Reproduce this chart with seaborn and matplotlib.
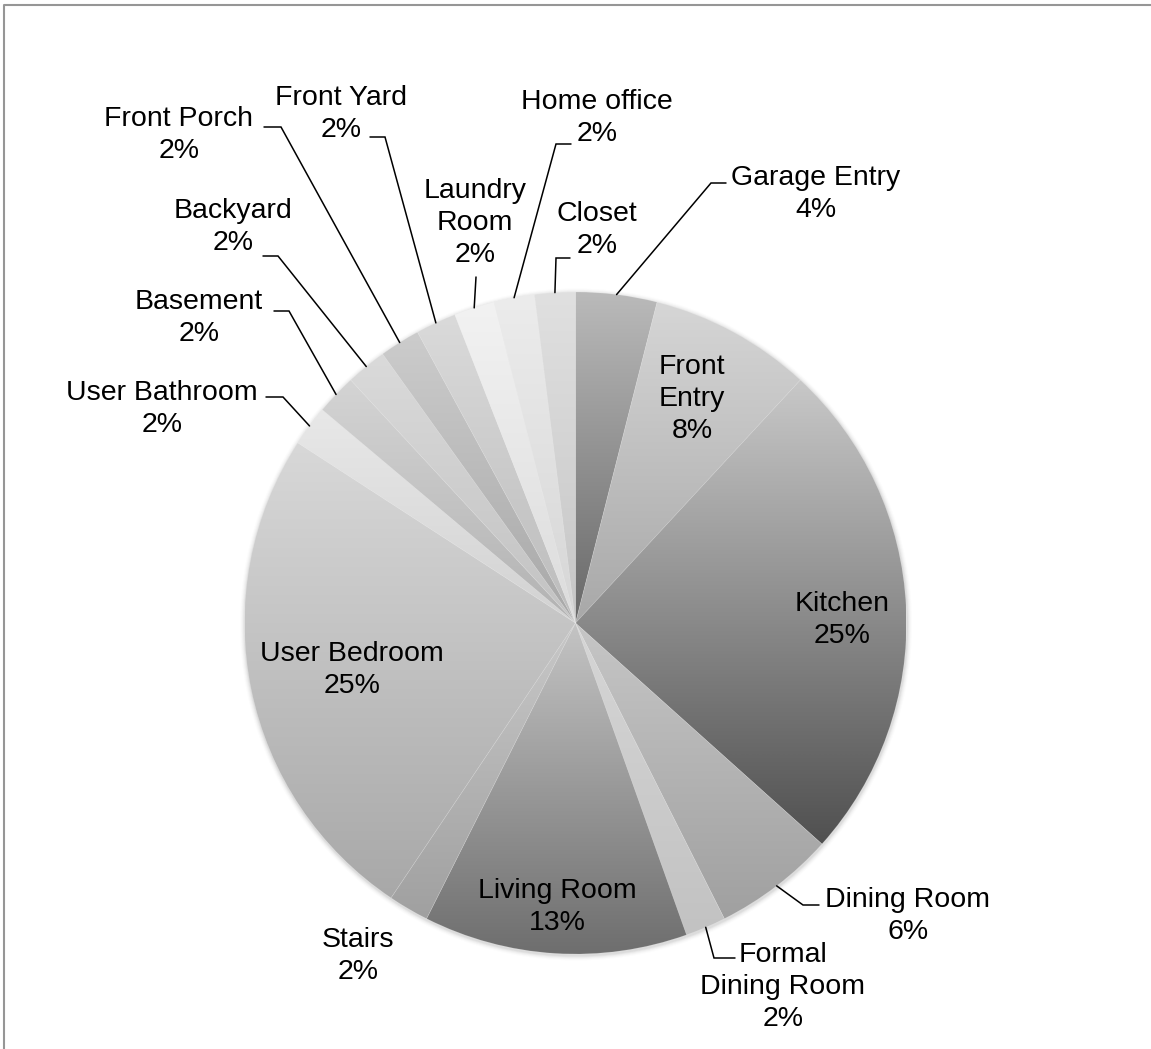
import numpy as np
import matplotlib
matplotlib.use("Agg")
import matplotlib.pyplot as plt
from matplotlib.patches import Circle
from matplotlib.lines import Line2D
import seaborn as sns

# ---- data -------------------------------------------------------------
rooms = ["Garage Entry", "Front Entry", "Kitchen", "Dining Room",
         "Formal Dining Room", "Living Room", "Stairs", "User Bedroom",
         "User Bathroom", "Basement", "Backyard", "Front Porch",
         "Front Yard", "Laundry Room", "Home office", "Closet"]
shares = [4, 8, 25, 6, 2, 13, 2, 25, 2, 2, 2, 2, 2, 2, 2, 2]
label_names = ["Garage Entry", "Front\nEntry", "Kitchen", "Dining Room",
               "Formal\nDining Room", "Living Room", "Stairs", "User Bedroom",
               "User Bathroom", "Basement", "Backyard", "Front Porch",
               "Front Yard", "Laundry\nRoom", "Home office", "Closet"]

# gradient shades (top -> bottom of each slice)
top_shades = ["#bababa", "#d6d6d6", "#c8c8c8", "#c6c6c6", "#d6d6d6", "#c4c4c4",
              "#c8c8c8", "#d8d8d8", "#e8e8e8", "#d4d4d4", "#dadada", "#cccccc",
              "#dadada", "#f2f2f2", "#ececec", "#e0e0e0"]
bottom_shades = ["#686868", "#a8a8a8", "#505050", "#a0a0a0", "#c2c2c2", "#6e6e6e",
                 "#a0a0a0", "#a8a8a8", "#d2d2d2", "#b2b2b2", "#c2c2c2", "#a8a8a8",
                 "#bcbcbc", "#dcdcdc", "#d6d6d6", "#c6c6c6"]

# ---- layout (pixel units, y measured from the top) -------------------
W, H = 1151, 1049
cx, cy, R = 575.5, 623.0, 331.0

label_pos = [(816, 194), (692, 399), (842, 620), (908, 916),
             (783, 987), (557, 907), (358, 956), (352, 670),
             (162, 409), (199, 318), (233, 227), (179, 135),
             (341, 114), (475, 223), (597, 118), (597, 230)]

leader_pts = [[(711, 183), (726, 183)], None, None, [(803, 905), (819, 905)],
              [(714, 958), (735, 958)], None, None, None,
              [(283, 397), (266, 397)], [(289, 311), (274, 311)],
              [(278, 256), (263, 256)], [(281, 127), (264, 127)],
              [(385, 137), (370, 137)], [(476, 277)],
              [(556, 144), (571, 144)], [(556, 258), (570, 258)]]

# ---- figure -------------------------------------------------------------
sns.set_theme(style="white")
plt.rcParams["font.family"] = ["Liberation Sans", "DejaVu Sans"]

fig = plt.figure(figsize=(W / 100, H / 100), dpi=100)
ax = fig.add_axes([0, 0, 1, 1])
ax.set_xlim(0, W)
ax.set_ylim(H, 0)

# soft shadow around the pie
for k, a in zip(range(1, 6), [0.10, 0.07, 0.05, 0.03, 0.02]):
    ax.add_patch(Circle((cx + 0.5, cy + 1.5), R + k, facecolor="#7a7a7a",
                        edgecolor="none", alpha=a, zorder=0.5))

total = float(sum(shares))
wedges, _ = ax.pie(shares, startangle=-90, counterclock=True,
                   center=(cx, cy), radius=R, frame=True,
                   wedgeprops=dict(linewidth=0))

for w, t, b in zip(wedges, top_shades, bottom_shades):
    cmap = sns.blend_palette([t, b], n_colors=256, as_cmap=True)
    ext = w.get_path().get_extents()
    grad = np.linspace(0, 1, 256).reshape(-1, 1)
    img = ax.imshow(grad, cmap=cmap, vmin=0, vmax=1, aspect="auto",
                    origin="upper", interpolation="bilinear",
                    extent=(ext.x0, ext.x1, ext.y1, ext.y0), zorder=2)
    img.set_clip_path(w)
    w.set_facecolor("none")
    w.set_edgecolor((1, 1, 1, 0.15))
    w.set_linewidth(0.5)
    w.set_zorder(3)

# labels and leader lines
cum = np.cumsum([0] + shares)
for i, (name, val) in enumerate(zip(label_names, shares)):
    lx, ly = label_pos[i]
    ax.text(lx, ly, f"{name}\n{val}%", ha="center", va="center",
            fontsize=20.5, color="black", linespacing=1.3, zorder=5)
    pts = leader_pts[i]
    if pts:
        mid = (cum[i] + cum[i + 1]) / 2.0 / total * 2 * np.pi
        sx = cx + R * np.sin(mid)
        sy = cy - R * np.cos(mid)
        xs = [sx] + [p[0] for p in pts]
        ys = [sy] + [p[1] for p in pts]
        ax.add_line(Line2D(xs, ys, color="black", linewidth=1.1, zorder=4,
                           solid_joinstyle="miter"))

# chart-area frame
ax.add_line(Line2D([4, 4, W + 5], [H + 5, 5, 5], color="#969696",
                   linewidth=1.5, zorder=6))

ax.set_xlim(0, W)
ax.set_ylim(H, 0)
ax.set_axis_off()
fig.savefig("out.png", dpi=100)
